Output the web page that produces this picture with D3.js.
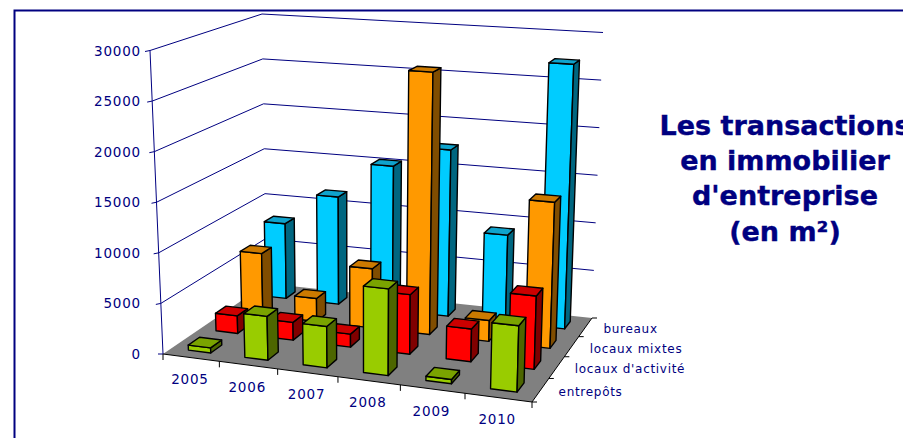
<!DOCTYPE html>
<html>
<head>
<meta charset="utf-8">
<script src="https://cdnjs.cloudflare.com/ajax/libs/d3/7.8.5/d3.min.js"></script>
<style>
  html, body { margin: 0; padding: 0; background: #fff; overflow: hidden; }
  text { font-family: "DejaVu Sans", sans-serif; fill: #000080; }
</style>
</head>
<body>
<svg id="chart" width="903" height="438"></svg>
<script>
let years = ["2005", "2006", "2007", "2008", "2009", "2010"]
// front row first
let series = ["entrepôts", "locaux d'activité", "locaux mixtes", "bureaux"]
let entrepots = [500, 4300, 4000, 8300, 400, 6200]
let activite = [1800, 1800, 1300, 5900, 3200, 7100]
let mixtes = [6500, 2400, 6100, 26800, 2100, 14600]
let bureaux = [8100, 11500, 15300, 17500, 9100, 27300]
let values = [entrepots, activite, mixtes, bureaux]
let y_ticks = [0, 5000, 10000, 15000, 20000, 25000, 30000]
let title_lines = ["Les transactions", "en immobilier", "d'entreprise", "(en m²)"]

let colors = [
  {front: "#99cc00", top: "#7aa300", side: "#4d6600"},
  {front: "#ff0000", top: "#cc0000", side: "#800000"},
  {front: "#ff9900", top: "#cc7a00", side: "#804d00"},
  {front: "#00ccff", top: "#0fa3cc", side: "#006680"}
]

// corners of the plot box on screen: front-left, front-right, back-right, back-left
let floor_quad = [[163, 354], [532, 402], [592, 318], [266.5, 283.5]],
    roof_quad = [[150, 50.5], [541, 76], [603, 32.5], [262, 14]]

// unit square -> quad (projective)
function make_homography(q) {
  let dx1 = q[1][0] - q[2][0], dx2 = q[3][0] - q[2][0],
      dy1 = q[1][1] - q[2][1], dy2 = q[3][1] - q[2][1],
      sx = q[0][0] - q[1][0] + q[2][0] - q[3][0],
      sy = q[0][1] - q[1][1] + q[2][1] - q[3][1],
      den = dx1 * dy2 - dx2 * dy1,
      g = (sx * dy2 - dx2 * sy) / den,
      h = (dx1 * sy - sx * dy1) / den,
      a = q[1][0] - q[0][0] + g * q[1][0],
      b = q[3][0] - q[0][0] + h * q[3][0],
      d = q[1][1] - q[0][1] + g * q[1][1],
      e = q[3][1] - q[0][1] + h * q[3][1]
  return (u, v) => {
    let w = g * u + h * v + 1
    return [(a * u + b * v + q[0][0]) / w, (d * u + e * v + q[0][1]) / w]
  }
}

let floor_h = make_homography(floor_quad),
    roof_h = make_homography(roof_quad)

let height_scale = d3.scaleLinear().domain([0, 30000]).range([0, 1])
let x_band = d3.scaleBand().domain(years).range([0, 1]).paddingInner(0.6).paddingOuter(0.3)
let depth_band = d3.scaleBand().domain(series).range([0, 1]).paddingInner(0.6).paddingOuter(0.3)

function project(u, v, value) {
  let f = floor_h(u, v), r = roof_h(u, v), t = height_scale(value)
  return [f[0] + (r[0] - f[0]) * t, f[1] + (r[1] - f[1]) * t]
}

let poly = pts => "M" + pts.map(p => p.join(",")).join("L") + "Z"

function draw_walls(svg) {
  let g = svg.append("g").attr("id", "walls")
  g.append("path")
    .attr("d", poly([project(0, 0, 0), project(1, 0, 0), project(1, 1, 0), project(0, 1, 0)]))
    .attr("fill", "#808080")

  g.selectAll("path.grid")
    .data(y_ticks.slice(1)).enter()
    .append("path")
    .attr("class", "grid")
    .attr("fill", "none")
    .attr("stroke", "#000080")
    .attr("stroke-width", 1)
    .attr("d", d => d3.line()([project(0, 0, d), project(0, 1, d), project(1, 1, d)]))
}

function draw_axes(svg) {
  let g = svg.append("g").attr("id", "axes")
  let line = d3.line()

  // value axis
  g.append("path")
    .attr("fill", "none").attr("stroke", "#000080")
    .attr("d", line([project(0, 0, 0), project(0, 0, 30000)]))
  y_ticks.forEach(d => {
    let p = project(0, 0, d)
    g.append("path").attr("stroke", "#000080")
      .attr("d", line([p, [p[0] - 5, p[1] + (d == 0 ? 0 : 1)]]))
    g.append("text")
      .attr("x", 141)
      .attr("y", p[1] + 5)
      .attr("text-anchor", "end")
      .style("font-size", "13.5px")
      .style("letter-spacing", "0.8px")
      .text(d)
  })

  // front edge with year ticks
  g.append("path").attr("fill", "none").attr("stroke", "#000")
    .attr("d", line([project(0, 0, 0), project(1, 0, 0), project(1, 1, 0)]))
  d3.range(7).forEach(i => {
    let p = project(i / 6, 0, 0)
    g.append("path").attr("stroke", "#000").attr("d", line([p, [p[0], p[1] + 6]]))
  })
  years.forEach((d, i) => {
    let p = project((i + 0.5) / 6, 0, 0)
    g.append("text")
      .attr("x", p[0] - 1)
      .attr("y", p[1] + 26.5)
      .attr("text-anchor", "middle")
      .style("font-size", "13.5px")
      .style("letter-spacing", "0.8px")
      .text(d)
  })

  // right edge with series ticks
  d3.range(5).forEach(i => {
    let p = project(1, i / 4, 0)
    g.append("path").attr("stroke", "#000").attr("d", line([p, [p[0] + 5, p[1]]]))
  })
  series.forEach((d, i) => {
    let p = project(1, (i + 0.5) / 4, 0)
    g.append("text")
      .attr("x", p[0] + 18)
      .attr("y", p[1] + 6)
      .style("font-size", "12px")
      .style("letter-spacing", "0.7px")
      .text(d)
  })
}

function draw_bars(svg) {
  let g = svg.append("g").attr("id", "bars")
  // back row first, left to right, so nearer bars paint over
  d3.range(series.length - 1, -1, -1).forEach(s => {
    years.forEach((year, i) => {
      let u0 = x_band(year), u1 = u0 + x_band.bandwidth(),
          v0 = depth_band(series[s]), v1 = v0 + depth_band.bandwidth(),
          val = values[s][i],
          col = colors[s]
      let faces = [
        {fill: col.front, pts: [project(u0, v0, 0), project(u1, v0, 0), project(u1, v0, val), project(u0, v0, val)]},
        {fill: col.side, pts: [project(u1, v0, 0), project(u1, v1, 0), project(u1, v1, val), project(u1, v0, val)]},
        {fill: col.top, pts: [project(u0, v0, val), project(u1, v0, val), project(u1, v1, val), project(u0, v1, val)]}
      ]
      g.selectAll(null)
        .data(faces).enter()
        .append("path")
        .attr("d", d => poly(d.pts))
        .attr("fill", d => d.fill)
        .attr("stroke", "#000")
        .attr("stroke-width", 1.4)
        .attr("stroke-linejoin", "round")
    })
  })
}

function draw_frame(svg) {
  svg.append("path")
    .attr("fill", "none")
    .attr("stroke", "#000080")
    .attr("stroke-width", 2)
    .attr("d", "M14.5,438V10.5H903")
  svg.append("g").selectAll("text")
    .data(title_lines).enter()
    .append("text")
    .attr("x", 785)
    .attr("y", (d, i) => 135 + i * 35.2)
    .attr("text-anchor", "middle")
    .style("font-size", "27px")
    .style("font-weight", "bold")
    .style("stroke", "#000080")
    .style("stroke-width", 0.4)
    .text(d => d)
}

let svg = d3.select("#chart")
draw_frame(svg)
draw_walls(svg)
draw_axes(svg)
draw_bars(svg)
</script>
</body>
</html>
